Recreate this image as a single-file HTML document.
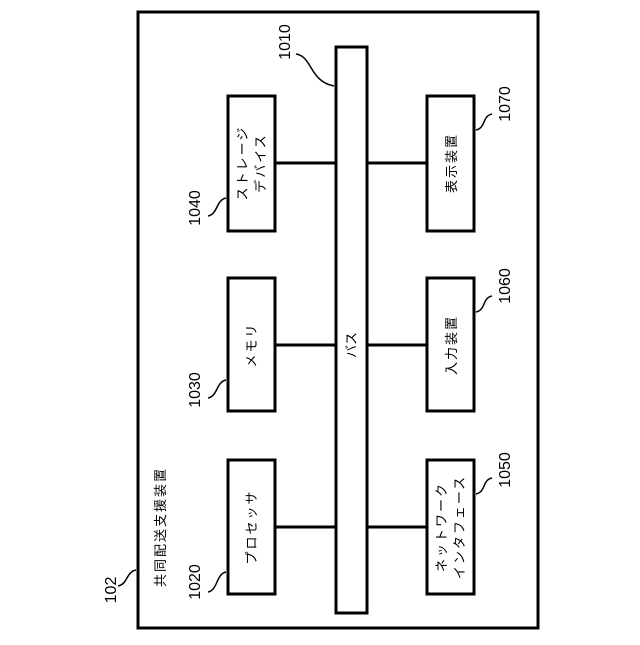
<!DOCTYPE html><html><head><meta charset="utf-8"><style>body{margin:0;background:#fff}</style></head><body>
<svg width="640" height="640" xmlns="http://www.w3.org/2000/svg" font-family="Liberation Sans, Noto Sans CJK JP, sans-serif">
<g fill="none" stroke="#000" stroke-width="3">
<rect x="138" y="12" width="400" height="616"/>
<rect x="336" y="47" width="31" height="566"/>
<rect x="228" y="96" width="47" height="135"/>
<rect x="228" y="278" width="47" height="133"/>
<rect x="228" y="460" width="47" height="134"/>
<rect x="427" y="96" width="47" height="135"/>
<rect x="427" y="278" width="47" height="133"/>
<rect x="427" y="460" width="47" height="134"/>
<line x1="275" y1="163" x2="336" y2="163"/><line x1="367" y1="163" x2="427" y2="163"/>
<line x1="275" y1="345" x2="336" y2="345"/><line x1="367" y1="345" x2="427" y2="345"/>
<line x1="275" y1="527" x2="336" y2="527"/><line x1="367" y1="527" x2="427" y2="527"/>
</g>
<g fill="none" stroke="#000" stroke-width="1.5">
<path d="M118 586 C128 584,126 572,136 570"/>
<path d="M208 592 C218 590,216 574,226 572"/>
<path d="M208 216 C218 214,216 200,226 198"/>
<path d="M208 398 C218 396,216 382,226 380"/>
<path d="M296 54 C312 56,310 82,334 86"/>
<path d="M476 130 C486 128,482 116,492 114"/>
<path d="M476 312 C486 310,482 298,492 296"/>
<path d="M476 494 C486 492,482 480,492 478"/>
</g>
<g font-size="16" fill="#000" text-anchor="middle">
<text transform="translate(116,590) rotate(-90)">102</text>
<text transform="translate(200,582) rotate(-90)">1020</text>
<text transform="translate(200,208) rotate(-90)">1040</text>
<text transform="translate(200,390) rotate(-90)">1030</text>
<text transform="translate(290,42) rotate(-90)">1010</text>
<text transform="translate(510,104) rotate(-90)">1070</text>
<text transform="translate(510,286) rotate(-90)">1060</text>
<text transform="translate(510,470) rotate(-90)">1050</text>
</g>
<g font-size="13" fill="#000" text-anchor="middle">
<text transform="translate(165,527) rotate(-90)" letter-spacing="2">共同配送支援装置</text>
<text transform="translate(256,527) rotate(-90)" letter-spacing="2">プロセッサ</text>
<text transform="translate(256,345) rotate(-90)" letter-spacing="2">メモリ</text>
<text transform="translate(247,163) rotate(-90)" letter-spacing="2">ストレージ</text>
<text transform="translate(265,163) rotate(-90)" letter-spacing="2">デバイス</text>
<text transform="translate(356,345) rotate(-90)">バス</text>
<text transform="translate(456,163) rotate(-90)" letter-spacing="2">表示装置</text>
<text transform="translate(456,345) rotate(-90)" letter-spacing="2">入力装置</text>
<text transform="translate(446,527) rotate(-90)" letter-spacing="2">ネットワーク</text>
<text transform="translate(464,527) rotate(-90)" letter-spacing="2">インタフェース</text>
</g>
</svg>
</body></html>
